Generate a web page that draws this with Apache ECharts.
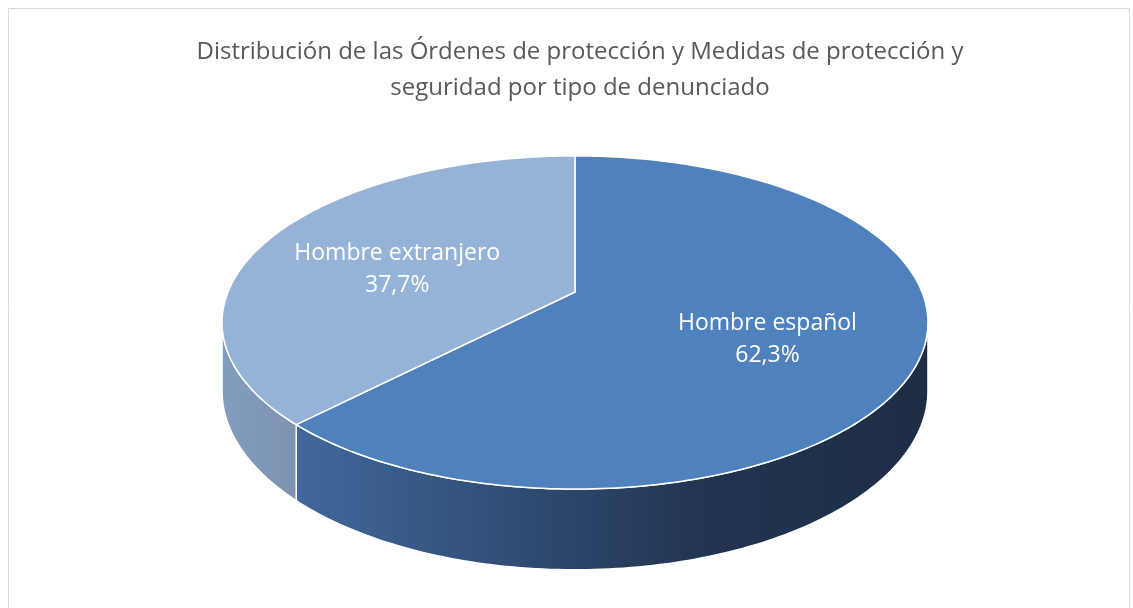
<!DOCTYPE html>
<html>
<head>
<meta charset="utf-8">
<script src="https://cdn.jsdelivr.net/npm/echarts@6/dist/echarts.min.js"></script>
<style>
  html, body { margin: 0; padding: 0; background: #fff; }
  #chart { width: 1133px; height: 608px; }
</style>
</head>
<body>
<div id="chart"></div>
<script>
// datos del gráfico
const categories = ['Hombre español', 'Hombre extranjero']
const values = [62.3, 37.7]
const valueLabels = ['62,3%', '37,7%']
const topColors = ['#4f81bd', '#95b3d7']

const chart = echarts.init(document.getElementById('chart'))

// proyección "3D" con perspectiva sencilla
const CX = 575
const CY = 292
const A = 347 // semieje horizontal
const B = 161 // semieje vertical
const P = 0.183 // perspectiva
const DEPTH = 66 // grosor
const total = values.reduce((s, v) => s + v, 0)

function proj (theta, dz) {
  const u = Math.sin(theta)
  const v = -Math.cos(theta)
  const s = 1 / (1 - P * v)
  return [CX + A * u * s, CY + B * v * s + dz * s]
}

function arc (t0, t1, dz) {
  const pts = []
  const n = Math.max(2, Math.ceil(Math.abs(t1 - t0) / (Math.PI / 180)))
  for (let i = 0; i <= n; i++) {
    pts.push(proj(t0 + (t1 - t0) * i / n, dz))
  }
  return pts
}

const sideGradients = [
  new echarts.graphic.LinearGradient(0, 0, 1, 0, [
    { offset: 0, color: '#41689c' },
    { offset: 0.65, color: '#213450' },
    { offset: 1, color: '#1e2d44' }
  ]),
  new echarts.graphic.LinearGradient(0, 0, 1, 0, [
    { offset: 0, color: '#829dbd' },
    { offset: 1, color: '#7d93b1' }
  ])
]

function renderItem (params, api) {
  const i = params.dataIndex
  let before = 0
  for (let k = 0; k < i; k++) before += values[k]
  const t0 = before / total * Math.PI * 2
  const t1 = (before + values[i]) / total * Math.PI * 2
  const children = []

  // pared lateral visible (parte frontal)
  const ta = Math.PI / 2 + Math.asin(P)
  const tb = Math.PI * 1.5 - Math.asin(P)
  const w0 = Math.max(t0, ta)
  const w1 = Math.min(t1, tb)
  if (w1 > w0) {
    const top = arc(w0, w1, 0)
    const bottom = arc(w0, w1, DEPTH).reverse()
    children.push({
      type: 'polygon',
      shape: { points: top.concat(bottom) },
      style: { fill: sideGradients[i], stroke: '#ffffff', lineWidth: 1.5 }
    })
  }

  // cara superior
  children.push({
    type: 'polygon',
    shape: { points: [[CX, CY]].concat(arc(t0, t1, 0)) },
    style: { fill: topColors[i], stroke: '#ffffff', lineWidth: 1.5, lineJoin: 'round' }
  })

  // etiqueta
  const tm = (t0 + t1) / 2
  const u = Math.sin(tm) * 0.575
  const v = -Math.cos(tm) * 0.575
  const s = 1 / (1 - P * v)
  children.push({
    type: 'text',
    style: {
      text: categories[i] + '\n' + valueLabels[i],
      x: CX + A * u * s,
      y: CY + B * v * s + 11,
      fill: '#ffffff',
      fontSize: 23,
      lineHeight: 32,
      fontFamily: 'Open Sans',
      align: 'center',
      verticalAlign: 'middle'
    }
  })

  return { type: 'group', children: children }
}

const option = {
  backgroundColor: '#ffffff',
  title: {
    text: 'Distribución de las Órdenes de protección y Medidas de protección y\nseguridad por tipo de denunciado',
    left: 575,
    top: 29,
    textAlign: 'center',
    textStyle: {
      fontFamily: 'Open Sans',
      fontSize: 24,
      fontWeight: 'normal',
      color: '#595959',
      lineHeight: 36
    }
  },
  graphic: [{
    type: 'rect',
    shape: { x: 8.5, y: 8.5, width: 1121, height: 610 },
    style: { fill: null, stroke: '#d9d9d9', lineWidth: 1 },
    z: -1
  }],
  series: [{
    type: 'custom',
    coordinateSystem: 'none',
    renderItem: renderItem,
    data: values.map((v, i) => ({ name: categories[i], value: v }))
  }]
}

chart.setOption(option)
</script>
</body>
</html>
